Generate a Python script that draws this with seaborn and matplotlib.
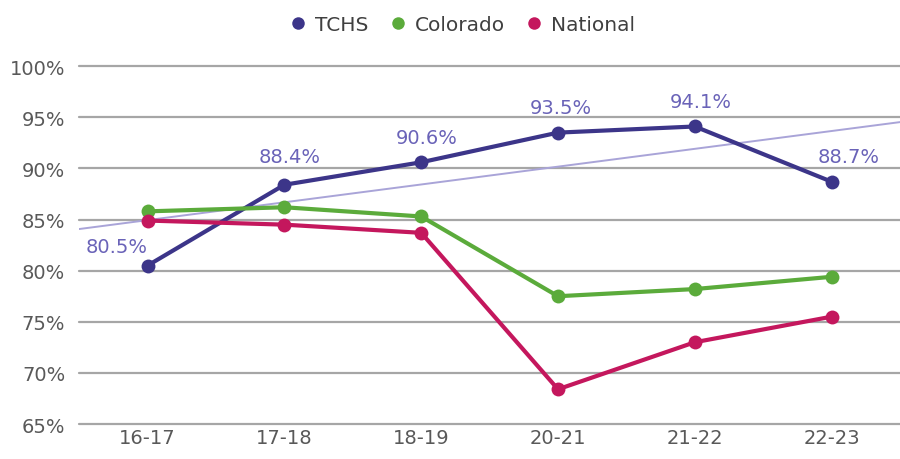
import numpy as np
import pandas as pd
import matplotlib
matplotlib.use("Agg")
import matplotlib.pyplot as plt
import seaborn as sns

years = ["16-17", "17-18", "18-19", "20-21", "21-22", "22-23"]
tchs = [80.5, 88.4, 90.6, 93.5, 94.1, 88.7]
colorado = [85.8, 86.2, 85.3, 77.5, 78.2, 79.4]
national = [84.9, 84.5, 83.7, 68.4, 73.0, 75.5]
series_names = ["TCHS", "Colorado", "National"]
yticks = [65, 70, 75, 80, 85, 90, 95, 100]

colors = {"TCHS": "#3c3589", "Colorado": "#5bab3b", "National": "#c4175d"}

df = pd.DataFrame({"year": years * 3,
                   "series": sum([[n] * len(years) for n in series_names], []),
                   "value": tchs + colorado + national})
df["x"] = df["year"].map({y: i for i, y in enumerate(years)})

sns.set_theme(style="white")
plt.rcParams['font.family'] = ['DejaVu Sans']

fig = plt.figure(figsize=(9, 4.6), dpi=100)
ax = fig.add_axes([0.088, 0.076, 0.912, 0.778])

for y in yticks:
    ax.axhline(y, color="#a6a6a6", lw=1.6, zorder=0, clip_on=False)

# trendline (linear fit of TCHS)
coef = np.polyfit(np.arange(len(years)), tchs, 1)
xx = np.array([-0.5, len(years) - 0.5])
ax.plot(xx, np.polyval(coef, xx), color="#a9a4d8", lw=1.4, zorder=1)

sns.lineplot(data=df, x="x", y="value", hue="series", hue_order=series_names,
             palette=colors, marker="o", markersize=10, markeredgewidth=0,
             linewidth=3, ax=ax, legend=False, zorder=3)

offsets = [(-22, 14), (4, 20), (4, 18), (2, 18), (4, 18), (12, 18)]
for i, v in enumerate(tchs):
    ax.annotate(f"{v:.1f}%", (i, v), xytext=offsets[i], textcoords="offset points",
                ha="center", va="center", fontsize=14, color="#6a63b8")

ax.set_xlim(-0.5, len(years) - 0.5)
ax.set_ylim(65, 100)
ax.set_xticks(range(len(years)))
ax.set_xticklabels(years)
ax.set_yticks(yticks)
ax.set_yticklabels([f"{t}%" for t in yticks])
ax.tick_params(axis="both", labelsize=14, colors="#595959", length=0)
ax.tick_params(axis="y", pad=10)
ax.tick_params(axis="x", pad=3)
ax.set_xlabel("")
ax.set_ylabel("")
for s in ax.spines.values():
    s.set_visible(False)

handles = [plt.Line2D([], [], marker="o", linestyle="", markersize=9,
                      markerfacecolor=colors[n], markeredgewidth=0) for n in series_names]
fig.legend(handles, series_names, loc="center", bbox_to_anchor=(0.51, 0.945), ncol=3,
           frameon=False, fontsize=14.5, handletextpad=0.1, columnspacing=0.7,
           handlelength=1.5, labelcolor="#404040")

fig.savefig("out.png", dpi=100)
